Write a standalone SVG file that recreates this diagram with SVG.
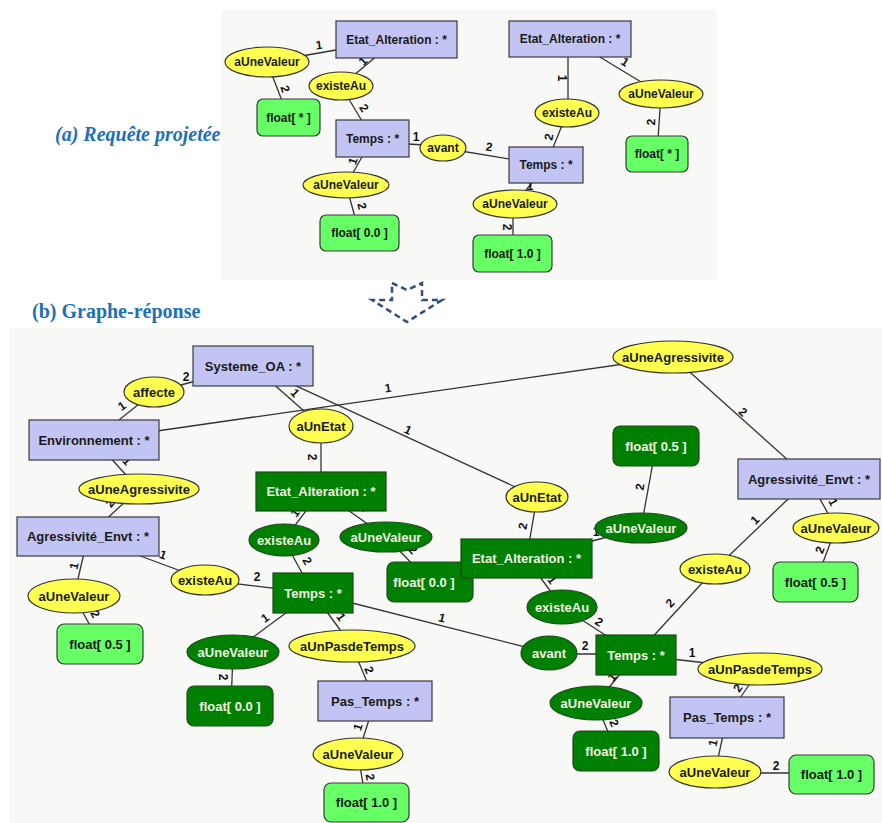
<svg xmlns="http://www.w3.org/2000/svg" width="882" height="823" viewBox="0 0 882 823">
<style>
.bg{fill:#f8f8f7}
.box{fill:#c2c5f3;stroke:#3a3a3a;stroke-width:1.2}
.ell{fill:#ffff4f;stroke:#333;stroke-width:1.2}
.lg{fill:#66ff66;stroke:#3a3a3a;stroke-width:1.2}
.dg{fill:#008000;stroke:#1c4a1c;stroke-width:1.2}
.t{font-family:"Liberation Sans",Arial,sans-serif;font-size:12px;font-weight:bold;fill:#1a1a1a;text-anchor:middle;dominant-baseline:central}
.b .t{font-size:13px}
.w{fill:#f2f2e4}
.e line{stroke:#333;stroke-width:1.3}
.n{font-family:"Liberation Sans",Arial,sans-serif;font-size:12px;font-weight:bold;fill:#111;text-anchor:middle;dominant-baseline:central}
.title{font-family:"Liberation Serif","Times New Roman",serif;font-weight:bold;fill:#1e70b8}
</style>
<rect class="bg" x="221" y="10" width="496" height="270"/>
<rect class="bg" x="9" y="328" width="873" height="495"/>
<text class="title" x="55" y="141" font-size="20" font-style="italic">(a) Requête projetée</text>
<text class="title" x="32" y="318" font-size="20">(b) Graphe-réponse</text>
<path d="M392,283 L407,290 L422,283 L422,300 L442,300 L407,322 L372,300 L392,300 Z" fill="none" stroke="#2f4f7f" stroke-width="2.5" stroke-dasharray="6,4"/>

<!-- connectors, top panel -->
<g id="connectors-a" class="e">
<line x1="396.5" y1="39.5" x2="267" y2="62"/>
<line x1="267" y1="62" x2="288.5" y2="117.5"/>
<line x1="396.5" y1="39.5" x2="341" y2="86"/>
<line x1="341" y1="86" x2="372.5" y2="138.5"/>
<line x1="372" y1="142" x2="443" y2="146"/>
<line x1="443" y1="148" x2="546" y2="165"/>
<line x1="372.5" y1="138.5" x2="346" y2="185"/>
<line x1="346" y1="185" x2="359.5" y2="233"/>
<line x1="568" y1="39" x2="568" y2="113"/>
<line x1="567" y1="113" x2="546" y2="165"/>
<line x1="570" y1="39" x2="661" y2="94"/>
<line x1="661" y1="94" x2="657" y2="154"/>
<line x1="546" y1="165" x2="515" y2="204"/>
<line x1="513" y1="204" x2="513" y2="253"/>
<text class="n" x="319" y="45" transform="rotate(-8 319 45)">1</text>
<text class="n" x="285" y="89" transform="rotate(72 285 89)">2</text>
<text class="n" x="363" y="61" transform="rotate(-45 363 61)">1</text>
<text class="n" x="364" y="108" transform="rotate(56 364 108)">2</text>
<text class="n" x="416" y="137">1</text>
<text class="n" x="489" y="147" transform="rotate(8 489 147)">2</text>
<text class="n" x="353" y="161" transform="rotate(-72 353 161)">1</text>
<text class="n" x="362" y="206" transform="rotate(77 362 206)">2</text>
<text class="n" x="562" y="78" transform="rotate(90 562 78)">1</text>
<text class="n" x="549" y="137" transform="rotate(-79 549 137)">2</text>
<text class="n" x="625" y="62" transform="rotate(33 625 62)">1</text>
<text class="n" x="651" y="122" transform="rotate(-88 651 122)">2</text>
<text class="n" x="530" y="186">1</text>
<text class="n" x="507" y="227" transform="rotate(90 507 227)">2</text>
</g>

<!-- nodes, top panel -->
<g id="a-etat1"><rect class="box" x="336" y="21" width="121" height="37"/><text class="t" x="396.5" y="39.5">Etat_Alteration : *</text></g>
<g id="a-valeur1"><ellipse class="ell" cx="267" cy="62" rx="42" ry="15"/><text class="t" x="267" y="62">aUneValeur</text></g>
<g id="a-float1"><rect class="lg" x="257" y="99" width="63" height="37" rx="6"/><text class="t" x="288.5" y="117.5">float[ * ]</text></g>
<g id="a-existe1"><ellipse class="ell" cx="341" cy="86" rx="32" ry="14"/><text class="t" x="341" y="86">existeAu</text></g>
<g id="a-temps1"><rect class="box" x="336" y="120" width="73" height="37"/><text class="t" x="372.5" y="138.5">Temps : *</text></g>
<g id="a-avant"><ellipse class="ell" cx="443" cy="148" rx="23" ry="13"/><text class="t" x="443" y="148">avant</text></g>
<g id="a-valeur2"><ellipse class="ell" cx="346" cy="185" rx="43" ry="13"/><text class="t" x="346" y="185">aUneValeur</text></g>
<g id="a-float2"><rect class="lg" x="320" y="215" width="79" height="36" rx="6"/><text class="t" x="359.5" y="233">float[ 0.0 ]</text></g>
<g id="a-etat2"><rect class="box" x="509" y="21" width="122" height="36"/><text class="t" x="570" y="39">Etat_Alteration : *</text></g>
<g id="a-valeur3"><ellipse class="ell" cx="661" cy="94" rx="42" ry="14"/><text class="t" x="661" y="94">aUneValeur</text></g>
<g id="a-float3"><rect class="lg" x="626" y="136" width="62" height="36" rx="6"/><text class="t" x="657" y="154">float[ * ]</text></g>
<g id="a-existe2"><ellipse class="ell" cx="567" cy="113" rx="32" ry="14"/><text class="t" x="567" y="113">existeAu</text></g>
<g id="a-temps2"><rect class="box" x="509" y="147" width="74" height="36"/><text class="t" x="546" y="165">Temps : *</text></g>
<g id="a-valeur4"><ellipse class="ell" cx="515" cy="204" rx="42" ry="14"/><text class="t" x="515" y="204">aUneValeur</text></g>
<g id="a-float4"><rect class="lg" x="473" y="235" width="79" height="37" rx="6"/><text class="t" x="512.5" y="253.5">float[ 1.0 ]</text></g>

<!-- connectors, bottom panel -->
<g id="connectors-b" class="e">
<line x1="154" y1="392" x2="253" y2="366"/>
<line x1="94" y1="440" x2="154" y2="392"/>
<line x1="94" y1="440" x2="673" y2="357"/>
<line x1="253" y1="366" x2="321" y2="426"/>
<line x1="253" y1="366" x2="537" y2="497"/>
<line x1="321" y1="426" x2="321" y2="491"/>
<line x1="673" y1="357" x2="809" y2="479"/>
<line x1="656" y1="446" x2="641" y2="528"/>
<line x1="809" y1="479" x2="836" y2="528"/>
<line x1="809" y1="479" x2="715" y2="569"/>
<line x1="94" y1="440" x2="139" y2="489"/>
<line x1="139" y1="489" x2="88" y2="536"/>
<line x1="88" y1="536" x2="74" y2="596"/>
<line x1="74" y1="596" x2="100" y2="644"/>
<line x1="88" y1="536.5" x2="205" y2="580"/>
<line x1="205" y1="580" x2="313" y2="593"/>
<line x1="321" y1="491" x2="284" y2="540"/>
<line x1="284" y1="540" x2="313" y2="593"/>
<line x1="321" y1="491" x2="386" y2="537"/>
<line x1="386" y1="537" x2="430" y2="582"/>
<line x1="313" y1="593" x2="233" y2="652"/>
<line x1="233" y1="652" x2="231" y2="706"/>
<line x1="313" y1="593" x2="352" y2="646"/>
<line x1="352" y1="646" x2="375" y2="701"/>
<line x1="375" y1="701" x2="358" y2="754"/>
<line x1="358" y1="754" x2="366" y2="802"/>
<line x1="313" y1="593" x2="549" y2="653"/>
<line x1="537" y1="497" x2="526.5" y2="558.5"/>
<line x1="526.5" y1="558.5" x2="641" y2="528"/>
<line x1="526.5" y1="558.5" x2="562" y2="607"/>
<line x1="562" y1="607" x2="636" y2="655"/>
<line x1="549" y1="654" x2="636" y2="654"/>
<line x1="636" y1="655" x2="715" y2="569"/>
<line x1="836" y1="528" x2="815.5" y2="582"/>
<line x1="636" y1="655" x2="760" y2="669"/>
<line x1="636" y1="655" x2="596" y2="703"/>
<line x1="596" y1="703" x2="616" y2="751"/>
<line x1="760" y1="669" x2="727" y2="717"/>
<line x1="727" y1="717" x2="715" y2="772"/>
<line x1="715" y1="773" x2="831" y2="773"/>
<text class="n" x="186" y="377">2</text>
<text class="n" x="122" y="406" transform="rotate(-35 122 406)">1</text>
<text class="n" x="388" y="388" transform="rotate(-8 388 388)">1</text>
<text class="n" x="295" y="393" transform="rotate(47 295 393)">1</text>
<text class="n" x="408" y="430" transform="rotate(25 408 430)">1</text>
<text class="n" x="312" y="457" transform="rotate(90 312 457)">2</text>
<text class="n" x="743" y="412" transform="rotate(42 743 412)">2</text>
<text class="n" x="640" y="487" transform="rotate(-82 640 487)">2</text>
<text class="n" x="833" y="502" transform="rotate(62 833 502)">1</text>
<text class="n" x="755" y="520" transform="rotate(-46 755 520)">1</text>
<text class="n" x="127" y="461" transform="rotate(48 127 461)">1</text>
<text class="n" x="110" y="503" transform="rotate(-50 110 503)">2</text>
<text class="n" x="74" y="566" transform="rotate(-78 74 566)">1</text>
<text class="n" x="95" y="614" transform="rotate(62 95 614)">2</text>
<text class="n" x="163" y="555" transform="rotate(20 163 555)">1</text>
<text class="n" x="257" y="577">2</text>
<text class="n" x="295" y="513" transform="rotate(-53 295 513)">1</text>
<text class="n" x="307" y="561" transform="rotate(61 307 561)">2</text>
<text class="n" x="363" y="507" transform="rotate(35 363 507)">1</text>
<text class="n" x="413" y="550" transform="rotate(46 413 550)">2</text>
<text class="n" x="265" y="618" transform="rotate(-36 265 618)">1</text>
<text class="n" x="223" y="677" transform="rotate(90 223 677)">2</text>
<text class="n" x="341" y="617" transform="rotate(54 341 617)">1</text>
<text class="n" x="369" y="670" transform="rotate(67 369 670)">2</text>
<text class="n" x="358" y="727" transform="rotate(-72 358 727)">1</text>
<text class="n" x="370" y="777" transform="rotate(80 370 777)">2</text>
<text class="n" x="442" y="618" transform="rotate(14 442 618)">1</text>
<text class="n" x="523" y="526" transform="rotate(-80 523 526)">2</text>
<text class="n" x="596" y="532">1</text>
<text class="n" x="552" y="580" transform="rotate(54 552 580)">1</text>
<text class="n" x="599" y="622" transform="rotate(33 599 622)">2</text>
<text class="n" x="585" y="646">2</text>
<text class="n" x="670" y="603" transform="rotate(-47 670 603)">2</text>
<text class="n" x="820" y="550" transform="rotate(-69 820 550)">2</text>
<text class="n" x="692" y="653">1</text>
<text class="n" x="612" y="677" transform="rotate(-50 612 677)">1</text>
<text class="n" x="614" y="723" transform="rotate(67 614 723)">2</text>
<text class="n" x="738" y="688" transform="rotate(-55 738 688)">2</text>
<text class="n" x="713" y="743" transform="rotate(-78 713 743)">1</text>
<text class="n" x="776" y="766">2</text>
</g>

<!-- nodes, bottom panel -->
<g class="b">
<g id="b-systeme"><rect class="box" x="193" y="346" width="120" height="40"/><text class="t" x="253" y="366">Systeme_OA : *</text></g>
<g id="b-affecte"><ellipse class="ell" cx="154" cy="392" rx="30" ry="15"/><text class="t" x="154" y="392">affecte</text></g>
<g id="b-env"><rect class="box" x="29" y="420" width="130" height="40"/><text class="t" x="94" y="440">Environnement : *</text></g>
<g id="b-agress-tr"><ellipse class="ell" cx="673" cy="357" rx="60" ry="16"/><text class="t" x="673" y="357">aUneAgressivite</text></g>
<g id="b-unetat1"><ellipse class="ell" cx="321" cy="426" rx="32" ry="17"/><text class="t" x="321" y="426">aUnEtat</text></g>
<g id="b-unetat2"><ellipse class="ell" cx="537" cy="497" rx="31" ry="15"/><text class="t" x="537" y="497">aUnEtat</text></g>
<g id="b-etat1"><rect class="dg" x="256" y="472" width="130" height="39"/><text class="t w" x="321" y="491.5">Etat_Alteration : *</text></g>
<g id="b-agr-envt-r"><rect class="box" x="738" y="459" width="142" height="40"/><text class="t" x="809" y="479">Agressivité_Envt : *</text></g>
<g id="b-float05g"><rect class="dg" x="613" y="426" width="86" height="40" rx="7"/><text class="t w" x="656" y="446">float[ 0.5 ]</text></g>
<g id="b-valeur-gr"><ellipse class="dg" cx="641" cy="528" rx="46" ry="15"/><text class="t w" x="641" y="528">aUneValeur</text></g>
<g id="b-valeur-yr"><ellipse class="ell" cx="836" cy="528" rx="43" ry="15"/><text class="t" x="836" y="528">aUneValeur</text></g>
<g id="b-float05r"><rect class="lg" x="773" y="562" width="85" height="40" rx="7"/><text class="t" x="815.5" y="582">float[ 0.5 ]</text></g>
<g id="b-existe-yr"><ellipse class="ell" cx="715" cy="569" rx="35" ry="15"/><text class="t" x="715" y="569">existeAu</text></g>
<g id="b-agress-l"><ellipse class="ell" cx="139" cy="489" rx="60" ry="15"/><text class="t" x="139" y="489">aUneAgressivite</text></g>
<g id="b-agr-envt-l"><rect class="box" x="17" y="517" width="142" height="39"/><text class="t" x="88" y="536.5">Agressivité_Envt : *</text></g>
<g id="b-valeur-yl"><ellipse class="ell" cx="74" cy="596" rx="46" ry="17"/><text class="t" x="74" y="596">aUneValeur</text></g>
<g id="b-float05l"><rect class="lg" x="57" y="624" width="86" height="40" rx="7"/><text class="t" x="100" y="644">float[ 0.5 ]</text></g>
<g id="b-existe-y"><ellipse class="ell" cx="205" cy="580" rx="34" ry="15"/><text class="t" x="205" y="580">existeAu</text></g>
<g id="b-temps1"><rect class="dg" x="273" y="573" width="80" height="40"/><text class="t w" x="313" y="593">Temps : *</text></g>
<g id="b-existe-g1"><ellipse class="dg" cx="284" cy="540" rx="35" ry="16"/><text class="t w" x="284" y="540">existeAu</text></g>
<g id="b-valeur-g1"><ellipse class="dg" cx="386" cy="537" rx="46" ry="15"/><text class="t w" x="386" y="537">aUneValeur</text></g>
<g id="b-float00g"><rect class="dg" x="387" y="562" width="86" height="40" rx="7"/><text class="t w" x="424" y="582">float[ 0.0 ]</text></g>
<g id="b-etat2"><rect class="dg" x="461" y="539" width="131" height="39"/><text class="t w" x="526.5" y="558.5">Etat_Alteration : *</text></g>
<g id="b-valeur-g2"><ellipse class="dg" cx="233" cy="652" rx="46" ry="17"/><text class="t w" x="233" y="652">aUneValeur</text></g>
<g id="b-float00g2"><rect class="dg" x="187" y="686" width="86" height="40" rx="7"/><text class="t w" x="230" y="706">float[ 0.0 ]</text></g>
<g id="b-pas1"><ellipse class="ell" cx="352" cy="646" rx="63" ry="16"/><text class="t" x="352" y="646">aUnPasdeTemps</text></g>
<g id="b-pastemps1"><rect class="box" x="318" y="681" width="114" height="40"/><text class="t" x="375" y="701">Pas_Temps : *</text></g>
<g id="b-valeur-y1"><ellipse class="ell" cx="358" cy="754" rx="45" ry="16"/><text class="t" x="358" y="754">aUneValeur</text></g>
<g id="b-float10"><rect class="lg" x="324" y="783" width="85" height="39" rx="7"/><text class="t" x="366.5" y="802.5">float[ 1.0 ]</text></g>
<g id="b-avant"><ellipse class="dg" cx="549" cy="653" rx="28" ry="17"/><text class="t w" x="549" y="653">avant</text></g>
<g id="b-existe-g2"><ellipse class="dg" cx="562" cy="607" rx="35" ry="17"/><text class="t w" x="562" y="607">existeAu</text></g>
<g id="b-temps2"><rect class="dg" x="596" y="635" width="80" height="40"/><text class="t w" x="636" y="655">Temps : *</text></g>
<g id="b-pas2"><ellipse class="ell" cx="760" cy="669" rx="62" ry="16"/><text class="t" x="760" y="669">aUnPasdeTemps</text></g>
<g id="b-valeur-g3"><ellipse class="dg" cx="596" cy="703" rx="46" ry="17"/><text class="t w" x="596" y="703">aUneValeur</text></g>
<g id="b-float10g"><rect class="dg" x="573" y="731" width="86" height="40" rx="7"/><text class="t w" x="616" y="751">float[ 1.0 ]</text></g>
<g id="b-pastemps2"><rect class="box" x="670" y="697" width="114" height="41"/><text class="t" x="727" y="717.5">Pas_Temps : *</text></g>
<g id="b-valeur-y2"><ellipse class="ell" cx="715" cy="772" rx="46" ry="16"/><text class="t" x="715" y="772">aUneValeur</text></g>
<g id="b-float10r"><rect class="lg" x="789" y="755" width="85" height="39" rx="7"/><text class="t" x="831.5" y="774.5">float[ 1.0 ]</text></g>
</g>
</svg>
